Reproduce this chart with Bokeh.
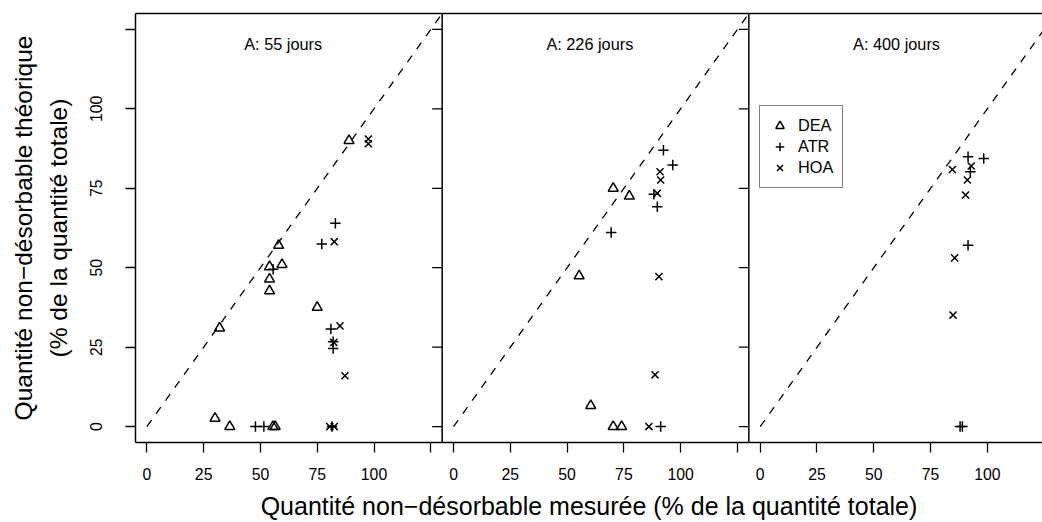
import numpy as np
from bokeh.plotting import figure
from bokeh.models import (Range1d, LinearAxis, FixedTicker, Span, Legend, LegendItem)
from bokeh.core.properties import value
from bokeh.embed import file_html
from bokeh.resources import INLINE

# ---------------- data ----------------
panel_titles = ["A: 55 jours", "A: 226 jours", "A: 400 jours"]

# panel 1 : 55 jours
dea_55_x = [89, 58, 59.5, 54, 54, 54, 75, 32, 30, 36.5, 55.5, 56.5]
dea_55_y = [90, 57, 51, 50.3, 46.4, 42.7, 37.5, 31, 2.6, 0, 0, 0]
atr_55_x = [83, 77, 55.6, 81, 82, 82, 47.8, 51.5, 81.5]
atr_55_y = [64, 57.5, 49.5, 30.7, 26.7, 24.6, 0, 0, 0]
hoa_55_x = [97.5, 97.5, 82.5, 85, 82.3, 87.2, 80.5, 82.5]
hoa_55_y = [90.5, 89, 58.2, 31.7, 26.5, 16, 0, 0]

# panel 2 : 226 jours
dea_226_x = [70.3, 77.4, 55.3, 60.4, 70.3, 74.0]
dea_226_y = [75.0, 72.5, 47.4, 6.6, 0, 0]
atr_226_x = [92.4, 96.5, 88.2, 89.7, 69.4, 91.2]
atr_226_y = [87.0, 82.3, 73.1, 69.2, 61.1, 0]
hoa_226_x = [90.9, 91.2, 89.7, 90.4, 88.7, 86.0]
hoa_226_y = [80.2, 77.6, 73.4, 47.2, 16.3, 0]

# panel 3 : 400 jours
dea_400_x = []
dea_400_y = []
atr_400_x = [91.5, 98.4, 92.5, 91.5, 88, 89]
atr_400_y = [84.9, 84.4, 80.2, 57.1, 0, 0]
hoa_400_x = [84.6, 92.9, 91.2, 90.4, 85.6, 84.9]
hoa_400_y = [80.9, 82.0, 77.6, 72.9, 53.1, 35.1]

ref_line = [0, 130]          # 1:1 line
tick_values = [0, 25, 50, 75, 100, 125]
tick_labels = ["0", "25", "50", "75", "100", ""]
series_names = ["DEA", "ATR", "HOA"]

panels = [
    (dea_55_x, dea_55_y, atr_55_x, atr_55_y, hoa_55_x, hoa_55_y),
    (dea_226_x, dea_226_y, atr_226_x, atr_226_y, hoa_226_x, hoa_226_y),
    (dea_400_x, dea_400_y, atr_400_x, atr_400_y, hoa_400_x, hoa_400_y),
]

# ---------------- layout ----------------
FONT = "Liberation Sans"
W, H = 1042, 522
LEFT, TOP, BOTTOM = 135, 13, 79
LIM = (-5, 130)
SPAN = LIM[1] - LIM[0]           # data width of one panel
PANEL_PX = 306.67                # pixel width of one panel
px_per_unit = PANEL_PX / SPAN
x_end = LIM[0] + (W - LEFT) / px_per_unit

p = figure(width=W, height=H, x_range=Range1d(LIM[0], x_end), y_range=Range1d(*LIM),
           x_axis_type=None, y_axis_type=None, output_backend="svg",
           toolbar_location=None, min_border_left=LEFT, min_border_right=0,
           min_border_top=TOP, min_border_bottom=BOTTOM)
p.outline_line_color = None
p.background_fill_color = "white"
p.border_fill_color = "white"

p.extra_x_ranges = {f"p{k}": Range1d(LIM[0] - k * SPAN, x_end - k * SPAN) for k in range(3)}

# bottom axis (all three panels)
gticks, overrides = [], {}
for k in range(3):
    for t, lab in zip(tick_values, tick_labels):
        g = t + k * SPAN
        if g < x_end - 1:
            gticks.append(g)
            overrides[g] = lab
xaxis = LinearAxis(ticker=FixedTicker(ticks=gticks), major_label_overrides=overrides,
                   axis_label="Quantité non−désorbable mesurée (% de la quantité totale)")
# left axes
yaxis = LinearAxis(ticker=FixedTicker(ticks=tick_values),
                   major_label_overrides={t: l for t, l in zip(tick_values, tick_labels)},
                   axis_label="(% de la quantité totale)", major_label_orientation="vertical")
yaxis2 = LinearAxis(ticker=FixedTicker(ticks=[]), axis_label="Quantité non−désorbable théorique")
topaxis = LinearAxis(ticker=FixedTicker(ticks=[]))

for ax in (xaxis, yaxis, yaxis2, topaxis):
    ax.axis_line_color = "black"
    ax.axis_line_width = 1.5
    ax.major_tick_line_color = "black"
    ax.major_tick_line_width = 1.3
    ax.major_tick_out = 10
    ax.major_tick_in = 0
    ax.minor_tick_line_color = None
    ax.major_label_text_font = FONT
    ax.major_label_text_font_size = "15.8px"
    ax.major_label_text_color = "black"
    ax.axis_label_text_font = FONT
    ax.axis_label_text_font_size = "24.5px"
    ax.axis_label_text_font_style = "normal"
    ax.axis_label_text_color = "black"

xaxis.axis_label_text_font_size = "25px"
xaxis.major_label_standoff = 15
xaxis.axis_label_standoff = 9
yaxis.major_label_standoff = 23
yaxis.axis_label_standoff = 16
yaxis2.axis_line_color = None
yaxis2.major_tick_out = 0
yaxis2.major_label_standoff = 0
yaxis2.axis_label_standoff = 5
topaxis.major_tick_out = 0
topaxis.major_label_standoff = 0

p.add_layout(xaxis, "below")
p.add_layout(yaxis, "left")
p.add_layout(yaxis2, "left")
p.add_layout(topaxis, "above")

# panel separators and inward ticks on their right side
for k in range(2):
    border = LIM[1] + k * SPAN
    p.add_layout(Span(location=border, dimension="height", line_color="black", line_width=1.5))
    p.ray(x=[border] * len(tick_values), y=tick_values, length=10, length_units="screen",
          angle=np.pi, line_color="black", line_width=1.3)

renderers = {}
for k, (dx, dy, ax_, ay, hx, hy) in enumerate(panels):
    rn = f"p{k}"
    p.line(ref_line, ref_line, x_range_name=rn, line_dash="8 8", line_color="black", line_width=1.3)
    p.text(x=[60], y=[120.3], text=[panel_titles[k]], x_range_name=rn, text_align="center",
           text_baseline="middle", text_font=value(FONT), text_font_size="16.3px", text_color="black")
    r1 = p.scatter(dx, dy, marker="triangle", size=10, fill_color=None, line_color="black",
                   line_width=1.5, x_range_name=rn)
    r2 = p.scatter(ax_, ay, marker="cross", size=10.5, line_color="black", line_width=1.5,
                   x_range_name=rn)
    r3 = p.scatter(hx, hy, marker="x", size=10, line_color="black", line_width=1.5,
                   x_range_name=rn)
    if k == 0:
        renderers = {"DEA": r1, "ATR": r2, "HOA": r3}

legend = Legend(items=[LegendItem(label=n, renderers=[renderers[n]]) for n in series_names],
                location=(624, 254), border_line_color="black", border_line_width=1.3,
                background_fill_color="white", background_fill_alpha=1.0,
                padding=9, spacing=0, glyph_width=21, glyph_height=21, label_height=21,
                label_standoff=8,
                label_text_font=FONT, label_text_font_size="16.3px", label_text_color="black",
                margin=0)
p.add_layout(legend, "center")

open("out.html", "w").write(file_html(p, INLINE))
